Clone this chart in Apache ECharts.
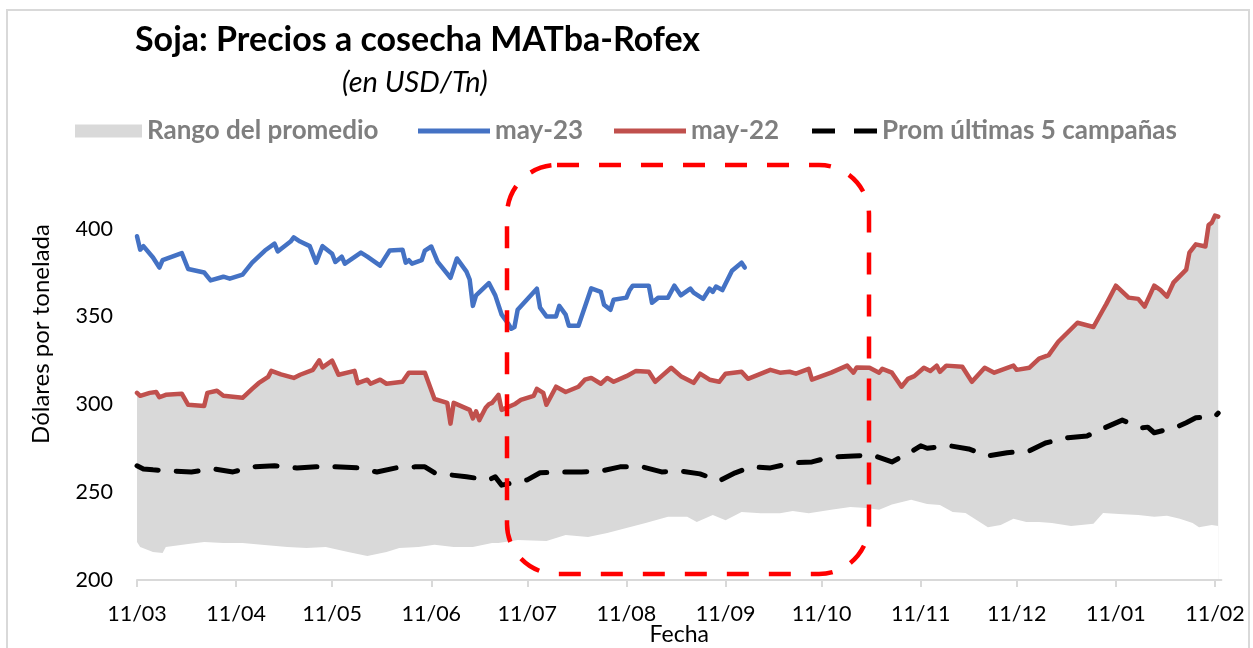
<!DOCTYPE html>
<html>
<head>
<meta charset="utf-8">
<script src="https://cdn.jsdelivr.net/npm/echarts@6/dist/echarts.min.js"></script>
<style>
html,body{margin:0;padding:0;background:#fff;}
#chart{width:1253px;height:648px;}
</style>
</head>
<body>
<div id="chart"></div>
<script>
// ---- Data (x = days since 11/03) ----
const startDate = '2022-03-11';
const tickDates = ['2022-03-11','2022-04-11','2022-05-11','2022-06-11','2022-07-11','2022-08-11','2022-09-11','2022-10-11','2022-11-11','2022-12-11','2023-01-11','2023-02-11'];
const tickLabels = ['11/03','11/04','11/05','11/06','11/07','11/08','11/09','11/10','11/11','11/12','11/01','11/02'];

const may23Days = [0,1,2,5,7,8,14,16,21,23,27,29,33,36,40,43,44,48,49,51,54,56,58,61,62,64,65,70,72,76,79,83,84,85,86,89,90,92,94,98,100,103,104,105,106,110,112,114,116,117,118,119,125,126,128,131,132,134,135,138,142,145,146,148,149,153,154,155,160,161,163,166,168,170,173,174,177,179,180,181,183,186,189,190];
const may23Values = [395.6,388,390,383.5,377.8,382,386,377,375,370.5,372.6,371.5,373.8,380.6,387.5,391.4,387,392.6,395,392.6,390,380.6,390,385.7,381,384,380,386.3,384,378.9,387.5,388,380.6,382,380,382,387.5,389.8,381,372,383,375.5,371,356,362,369,362,351,346,343,344,353.8,365.8,355,350,350,356,351,344.7,344.7,366,364,356.7,353.8,359.5,360.7,365,367.5,367.5,357.8,360.7,360.7,367.5,362,365.8,363.5,360,365.8,364,367,365,376,380.6,377.8];

const may22Days = [0,1,4,6,7,9,14,16,21,22,25,27,33,36,38,41,42,45,49,51,55,57,58,61,63,68,69,72,73,76,78,83,85,90,93,97,98,99,104,105,106,107,109,110,111,113,114,118,120,124,125,127,128,131,134,138,140,142,145,147,149,153,156,160,162,164,167,170,174,176,179,182,184,189,191,198,201,204,206,210,211,217,222,224,225,229,232,233,236,239,241,243,246,248,250,251,253,258,261,265,268,274,275,279,282,285,288,294,299,302,303,306,309,310,313,315,318,320,322,324,328,329,331,334,335,336,337,338];
const may22Values = [306.5,304.8,306.5,307,304,305.4,306,299.7,299,306.5,307.7,304.8,303.7,308.8,312,315.6,319,317,315,316.8,319.6,325,321,324.8,316.8,319,312,314,311.7,314,311.7,312.8,318,318,303,300.8,289,300.8,296.8,292,296,291,298,300,300.8,305.4,296.8,300,302.5,304.8,308.8,306.5,299.7,310,307,310,314,315,311.7,315,312.8,316,319,318.5,312.8,316,320.8,316,312.2,317.4,314,312.8,317.4,318.5,314.5,319.6,318,318.5,317.4,320.2,314,318,322,318,321,320.8,318,320.2,318,310,314.5,316,320.8,319,322,318.5,322,321.4,312.8,320.8,318,322,319.6,320.8,326,328,335.6,346.4,344,353.8,357,367.5,362.4,360.7,360,355.6,367.5,365,361.3,369.2,376.6,386.3,391,389.8,402,403.4,407.4,406.8];

const promDays = [0,2,5,11,17,24,30,36,43,50,56,62,69,75,81,87,90,93,98,103,110,112,114,122,126,133,139,145,151,158,164,170,176,182,187,192,198,205,211,217,224,230,236,242,245,247,254,260,266,272,279,284,291,297,303,308,314,316,318,325,328,331,337,338];
const promValues = [265,263.2,262.7,262,261.5,263.2,261.5,264.4,265,263.8,264.4,264.4,263.8,261.5,263.8,264.4,264.4,261,259.8,258.7,257,258.7,254,257,261,261.5,261.5,262,264.4,264.4,261.5,262,260.4,256.4,261,264.4,263.8,266.7,267.2,270,270.6,271,267.2,273,276.4,275,276.4,274.6,270.6,272.4,273.5,278,281,282,287,291,286.6,287,283.8,287,289.5,292.3,293,295];

// Range of the average: top edge follows may-22, bottom edge below
const rangoMaxDays = may22Days;
const rangoMaxValues = may22Values;
const rangoMinDays = [0,1,5,8,9,16,21,27,33,39,47,53,59,66,72,78,82,88,93,99,105,111,113,119,128,134,141,147,153,159,166,172,175,180,184,189,195,201,205,210,217,223,228,232,236,242,247,251,255,259,266,270,274,278,282,286,292,299,302,307,313,318,322,326,330,332,336,338];
const rangoMinValues = [221.6,218.8,216,215.4,218.8,220.5,221.6,221,221,220,218.8,218.2,218.8,216,213.7,216,218.2,218.8,220,218.8,218.8,221,221,222.8,222.2,225.6,224.5,226.8,229.6,232.5,236,236,233,237,234,238.7,238,238,239.3,238,240,241.6,241,240,243,245.6,243.3,242.7,238.7,238.2,230,231.3,234.8,233,233,232.5,230.8,232,238.2,237.6,237,236,236.5,234.8,232.5,230,231.3,230.8];

// ---- helpers ----
const DAY = 86400000;
const t0 = Date.parse(startDate);
const tickDays = tickDates.map(d => Math.round((Date.parse(d) - t0) / DAY));
const zip = (xs, ys) => xs.map((x, i) => [x, ys[i]]);

const FONT = 'Lato, "Open Sans", sans-serif';
const chart = echarts.init(document.getElementById('chart'));

const legendText = {fontFamily: FONT, fontWeight: 'bold', fontSize: 26, color: '#7f7f7f'};
const lineIcon = 'path://M0,0H72V5H0Z';
const dashIcon = 'path://M0,0H23V5H0Z M42,0H65V5H42Z';

chart.setOption({
  backgroundColor: '#fff',
  animation: false,
  title: [
    {text: 'Soja: Precios a cosecha MATba-Rofex', left: 135, top: 23, padding: 0,
     textStyle: {fontFamily: FONT, fontWeight: 'bold', fontSize: 34, color: '#000'}},
    {text: '(en USD/Tn)', left: 342, top: 68, padding: 0,
     textStyle: {fontFamily: FONT, fontStyle: 'italic', fontWeight: 'normal', fontSize: 29, color: '#000'}}
  ],
  legend: [
    {data: ['Rango del promedio'], left: 75, top: 118, padding: 0, icon: 'rect', itemWidth: 67, itemHeight: 13, textStyle: legendText},
    {data: [{name: 'may-23', icon: lineIcon}], left: 418, top: 118, padding: 0, itemWidth: 72, itemHeight: 5, textStyle: legendText},
    {data: [{name: 'may-22', icon: lineIcon}], left: 614, top: 118, padding: 0, itemWidth: 72, itemHeight: 5, textStyle: legendText},
    {data: [{name: 'Prom últimas 5 campañas', icon: dashIcon}], left: 812, top: 118, padding: 0, itemWidth: 65, itemHeight: 5, textStyle: legendText}
  ],
  grid: {left: 137, right: 31.6, top: 211, bottom: 68, containLabel: false, outerBoundsMode: 'none'},
  xAxis: {
    type: 'value', min: 0, max: 339, z: 10,
    name: 'Fecha', nameLocation: 'middle', nameGap: 43, nameMoveOverlap: false,
    nameTextStyle: {fontFamily: FONT, fontSize: 23, color: '#000'},
    axisLine: {show: true, lineStyle: {color: '#d9d9d9', width: 2}},
    axisTick: {show: true, customValues: tickDays, length: 7, lineStyle: {color: '#d9d9d9', width: 2}},
    axisLabel: {customValues: tickDays, margin: 23, fontFamily: FONT, fontSize: 21.5, color: '#000',
      formatter: v => { const i = tickDays.indexOf(Math.round(v)); return i >= 0 ? tickLabels[i] : ''; }},
    splitLine: {show: false}
  },
  yAxis: {
    type: 'value', min: 200, max: 410, interval: 50,
    axisLine: {show: false}, axisTick: {show: false}, splitLine: {show: false},
    axisLabel: {margin: 24, fontFamily: FONT, fontSize: 21.5, color: '#000',
      formatter: v => (v % 50 === 0 ? String(v) : '')}
  },
  graphic: [
    {type: 'rect', shape: {x: 7, y: 10, width: 1242, height: 660}, style: {fill: 'none', stroke: '#d9d9d9', lineWidth: 2}, z: 0, silent: true},
    {type: 'text', x: 41, y: 334, rotation: Math.PI / 2,
     style: {text: 'Dólares por tonelada', fontFamily: FONT, fontSize: 24, fill: '#000', align: 'center', verticalAlign: 'middle'}, silent: true},
    {type: 'rect', shape: {x: 507, y: 165, width: 362, height: 409, r: 50},
     style: {fill: 'none', stroke: '#ff0000', lineWidth: 4.5, lineDash: [22, 20]}, z: 100, silent: true}
  ],
  series: [
    {name: 'Rango del promedio', type: 'line', data: zip(rangoMaxDays, rangoMaxValues), symbol: 'none',
     color: '#d9d9d9', lineStyle: {width: 0, color: '#d9d9d9'}, areaStyle: {color: '#d9d9d9', opacity: 1, origin: 'start'}, z: 1},
    {name: 'rango-min', type: 'line', data: zip(rangoMinDays, rangoMinValues), symbol: 'none',
     lineStyle: {width: 0, color: '#fff'}, areaStyle: {color: '#fff', opacity: 1, origin: 'start'}, z: 1},
    {name: 'Prom últimas 5 campañas', type: 'line', data: zip(promDays, promValues), symbol: 'none', color: '#000',
     lineStyle: {color: '#000', width: 5, type: [22, 18], cap: 'round', join: 'round'}, z: 3},
    {name: 'may-22', type: 'line', data: zip(may22Days, may22Values), symbol: 'none', color: '#c0504d',
     lineStyle: {color: '#c0504d', width: 4.5, join: 'round', cap: 'round'}, z: 4},
    {name: 'may-23', type: 'line', data: zip(may23Days, may23Values), symbol: 'none', color: '#4472c4',
     lineStyle: {color: '#4472c4', width: 4.5, join: 'round', cap: 'round'}, z: 5}
  ]
});
</script>
</body>
</html>
